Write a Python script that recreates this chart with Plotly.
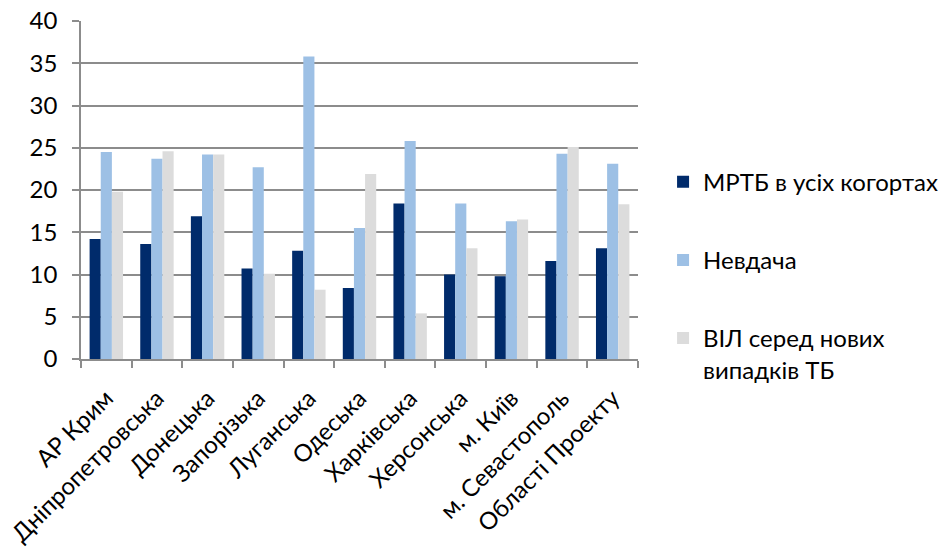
import plotly.graph_objects as go

# Regions
regions = ["АР Крим", "Дніпропетровська", "Донецька", "Запорізька", "Луганська",
           "Одеська", "Харківська", "Херсонська", "м. Київ", "м. Севастополь",
           "Області Проекту"]

# Series values (%)
mrtb = [14.2, 13.6, 16.9, 10.7, 12.8, 8.4, 18.4, 10.0, 9.8, 11.6, 13.1]
failure = [24.5, 23.7, 24.2, 22.7, 35.8, 15.5, 25.8, 18.4, 16.3, 24.3, 23.1]
hiv_new_tb = [19.8, 24.6, 24.2, 10.1, 8.2, 21.9, 5.4, 13.1, 16.5, 25.1, 18.3]

series_names = ["МРТБ в усіх когортах", "Невдача", "ВІЛ серед нових<br>випадків ТБ"]
series_values = [mrtb, failure, hiv_new_tb]
series_colors = ["#002B6B", "#9DC0E5", "#DCDCDC"]

y_ticks = [0, 5, 10, 15, 20, 25, 30, 35, 40]

FONT = "Lato, Calibri, sans-serif"
FSIZE = 24

fig = go.Figure()
for name, vals, color in zip(series_names, series_values, series_colors):
    fig.add_trace(go.Bar(
        x=regions, y=vals, name=name, legendgroup=name,
        marker=dict(color=color, line=dict(width=0)),
    ))

fig.update_layout(
    width=939, height=550,
    margin=dict(l=81, r=301, t=21, b=191, autoexpand=False),
    paper_bgcolor="white", plot_bgcolor="white",
    barmode="group", bargap=0.34, bargroupgap=0,
    font=dict(family=FONT, size=FSIZE, color="#000000"),
    showlegend=True,
    legend=dict(
        x=1.045, y=0.59, xanchor="left", yanchor="top",
        font=dict(family=FONT, size=FSIZE, color="#000000"),
        tracegroupgap=44, valign="top",
        bgcolor="rgba(0,0,0,0)",
    ),
)

fig.update_xaxes(
    type="category",
    tickangle=-45, automargin=False, ticklabelstandoff=14,
    showline=True, linecolor="#8C8C8C", linewidth=1.5,
    ticks="outside", tickson="boundaries", ticklen=7, tickcolor="#8C8C8C", tickwidth=1.5,
    showgrid=False,
    tickfont=dict(family=FONT, size=FSIZE, color="#000000"),
)
fig.update_yaxes(
    range=[0, 40], tickvals=y_ticks, automargin=False, ticklabelstandoff=10,
    showline=True, linecolor="#8C8C8C", linewidth=1.5,
    ticks="outside", ticklen=7, tickcolor="#8C8C8C", tickwidth=1.5,
    showgrid=True, gridcolor="#8C8C8C", gridwidth=1.5,
    zeroline=False,
    tickfont=dict(family=FONT, size=FSIZE, color="#000000"),
)

fig.write_html("out.html")
